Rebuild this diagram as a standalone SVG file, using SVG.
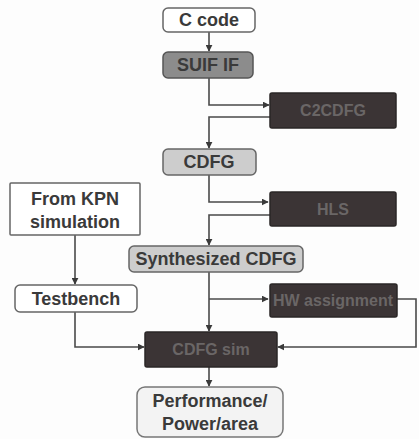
<svg xmlns="http://www.w3.org/2000/svg" width="419" height="439" viewBox="0 0 419 439">
<style>
.t{font-family:"Liberation Sans",Arial,sans-serif;font-weight:bold;font-size:18px;text-anchor:middle;fill:#3a3a3a}
.d{fill:#6a6666;font-size:16px}
.w{fill:#ffffff;stroke:#666;stroke-width:1.5}
.g{fill:#8c8c8c;stroke:#555;stroke-width:1.5}
.l{fill:#cdcdcd;stroke:#666;stroke-width:1.5}
.k{fill:#3b3435;stroke:#2a2626;stroke-width:1.5}
.p{fill:#f3f3f3;stroke:#777;stroke-width:1.5}
.c{fill:none;stroke:#4a4a4a;stroke-width:1.6}
</style>
<defs>
<marker id="a" viewBox="0 0 10 10" refX="9" refY="5" markerWidth="7" markerHeight="7" markerUnits="userSpaceOnUse" orient="auto">
<path d="M0,0 L10,5 L0,10 z" fill="#3a3a3a"/>
</marker>
</defs>
<rect width="419" height="439" fill="#fdfdfd"/>
<g id="connectors">
<path class="c" d="M209,32 V51" marker-end="url(#a)"/>
<path class="c" d="M209,78 V105 H269" marker-end="url(#a)"/>
<path class="c" d="M270,117 H209 V148" marker-end="url(#a)"/>
<path class="c" d="M209,175 V202 H268" marker-end="url(#a)"/>
<path class="c" d="M270,215 H209 V245" marker-end="url(#a)"/>
<path class="c" d="M209,272 V331" marker-end="url(#a)"/>
<path class="c" d="M209,299 H268" marker-end="url(#a)"/>
<path class="c" d="M397,299 H416 V347 H278" marker-end="url(#a)"/>
<path class="c" d="M75,235 V284" marker-end="url(#a)"/>
<path class="c" d="M75,312 V347 H144" marker-end="url(#a)"/>
<path class="c" d="M209,367 V386" marker-end="url(#a)"/>
</g>
<g id="ccode"><rect class="w" x="163" y="8" width="92" height="24" rx="5"/><text class="t" x="209" y="26">C code</text></g>
<g id="suif"><rect class="g" x="163" y="52" width="90" height="26" rx="5"/><text class="t" x="208" y="71" fill="#333">SUIF IF</text></g>
<g id="c2cdfg"><rect class="k" x="270" y="93" width="126" height="35" rx="2"/><text class="t d" x="333" y="116">C2CDFG</text></g>
<g id="cdfg"><rect class="l" x="163" y="149" width="93" height="26" rx="5"/><text class="t" x="209" y="168">CDFG</text></g>
<g id="hls"><rect class="k" x="270" y="192" width="126" height="34" rx="2"/><text class="t d" x="333" y="215">HLS</text></g>
<g id="synth"><rect class="l" x="129" y="246" width="174" height="26" rx="5"/><text class="t" x="216" y="265">Synthesized CDFG</text></g>
<g id="kpn"><rect class="w" x="10" y="183" width="130" height="52" rx="1"/><text class="t" x="75" y="205">From KPN</text><text class="t" x="75" y="228">simulation</text></g>
<g id="testbench"><rect class="w" x="15" y="285" width="122" height="27" rx="5"/><text class="t" x="76" y="305">Testbench</text></g>
<g id="hw"><rect class="k" x="270" y="284" width="127" height="33" rx="2"/><text class="t d" x="333" y="306">HW assignment</text></g>
<g id="cdfgsim"><rect class="k" x="145" y="332" width="132" height="35" rx="2"/><text class="t d" x="211" y="355">CDFG sim</text></g>
<g id="perf"><rect class="p" x="137" y="387" width="146" height="50" rx="8"/><text class="t" x="210" y="407">Performance/</text><text class="t" x="210" y="430">Power/area</text></g>
</svg>
